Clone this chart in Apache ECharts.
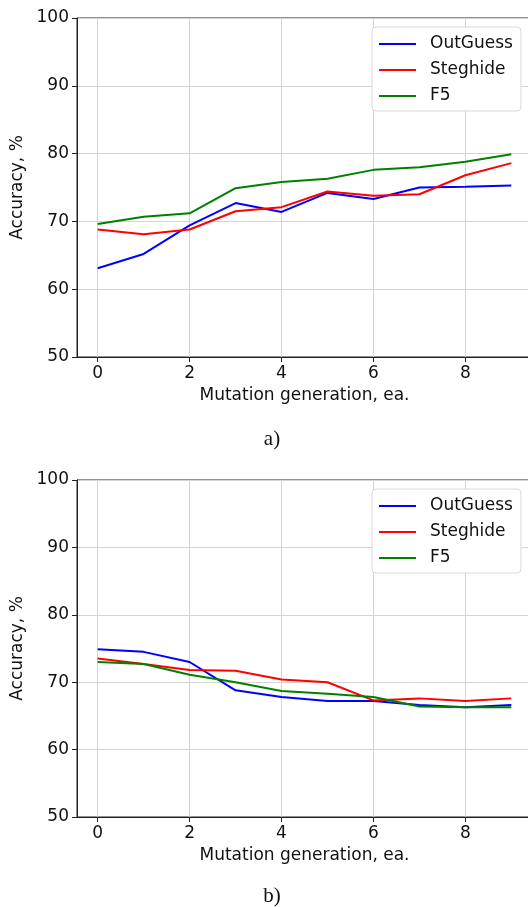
<!DOCTYPE html>
<html>
<head>
  <meta charset="utf-8">
  <title>Mutation accuracy</title>
  <script src="https://cdn.jsdelivr.net/npm/echarts@6/dist/echarts.min.js"></script>
  <style>
    html, body { margin: 0; padding: 0; background: #fff; }
  </style>
</head>
<body>
  <div id="main" style="width:528px;height:907px;"></div>
  <script type="text/javascript">
    // generations along x
    var generations = [0, 1, 2, 3, 4, 5, 6, 7, 8, 9];
    var xTicks = [0, 2, 4, 6, 8];
    var seriesNames = ['OutGuess', 'Steghide', 'F5'];
    var seriesColors = ['#0000ff', '#ff0000', '#008000'];

    // panel a)
    var outguessA = [63.1, 65.2, 69.4, 72.7, 71.4, 74.2, 73.3, 75.0, 75.1, 75.3];
    var steghideA = [68.8, 68.1, 68.8, 71.5, 72.1, 74.4, 73.8, 74.0, 76.8, 78.6];
    var f5A       = [69.6, 70.7, 71.2, 74.9, 75.8, 76.3, 77.6, 78.0, 78.8, 79.9];

    // panel b)
    var outguessB = [74.9, 74.5, 73.0, 68.8, 67.8, 67.2, 67.2, 66.6, 66.3, 66.6];
    var steghideB = [73.5, 72.7, 71.8, 71.7, 70.4, 70.0, 67.3, 67.6, 67.2, 67.6];
    var f5B       = [73.0, 72.7, 71.1, 70.0, 68.7, 68.3, 67.8, 66.4, 66.3, 66.3];

    var font = 'DejaVu Sans';

    function pairs(vals) {
      return generations.map(function (g, i) { return [g, vals[i]]; });
    }

    function xAxisFor(idx) {
      return {
        type: 'value', gridIndex: idx, min: -0.45, max: 9.45,
        name: 'Mutation generation, ea.', nameLocation: 'middle', nameGap: 30,
        nameTextStyle: { fontFamily: font, fontSize: 17, color: '#111' },
        axisLine: { show: true, onZero: false, lineStyle: { color: '#222', width: 1 } },
        axisTick: { show: true, length: 5, customValues: xTicks, lineStyle: { color: '#222' } },
        axisLabel: { customValues: xTicks, margin: 8, fontFamily: font, fontSize: 17, color: '#111' },
        splitLine: { show: true, customValues: xTicks, lineStyle: { color: '#d4d4d4', width: 1 } }
      };
    }

    function yAxisFor(idx) {
      return {
        type: 'value', gridIndex: idx, min: 50, max: 100, interval: 10,
        name: 'Accuracy, %', nameLocation: 'middle', nameGap: 45, nameRotate: 90,
        nameTextStyle: { fontFamily: font, fontSize: 17, color: '#111' },
        axisLine: { show: true, onZero: false, lineStyle: { color: '#222', width: 1 } },
        axisTick: { show: true, length: 5, lineStyle: { color: '#222' } },
        axisLabel: { margin: 8, fontFamily: font, fontSize: 17, color: '#111' },
        splitLine: { show: true, lineStyle: { color: '#d4d4d4', width: 1 } }
      };
    }

    function legendFor(idx, top) {
      return {
        orient: 'vertical', left: 372, top: top,
        data: seriesNames.map(function (n) { return { name: n, icon: 'rect' }; }),
        itemWidth: 37, itemHeight: 2, itemGap: 6,
        padding: [7, 8, 5, 7],
        backgroundColor: '#fff', borderColor: '#d8d8d8', borderWidth: 1, borderRadius: 4,
        textStyle: { fontFamily: font, fontSize: 17, color: '#111', lineHeight: 20, padding: [0, 0, 0, 9] },
        selectedMode: false
      };
    }

    function lineSeries(name, color, vals, idx) {
      return {
        name: name, type: 'line', xAxisIndex: idx, yAxisIndex: idx,
        data: pairs(vals), showSymbol: false, symbol: 'none',
        lineStyle: { color: color, width: 2 }, itemStyle: { color: color },
        animation: false
      };
    }

    var myChart = echarts.init(document.getElementById('main'));

    var option = {
      backgroundColor: '#fff',
      animation: false,
      grid: [
        { left: 77, width: 455, top: 18, height: 339, outerBoundsMode: 'none', containLabel: false, show: true, borderColor: '#222', borderWidth: 1, backgroundColor: 'transparent' },
        { left: 77, width: 455, top: 480, height: 337, outerBoundsMode: 'none', containLabel: false, show: true, borderColor: '#222', borderWidth: 1, backgroundColor: 'transparent' }
      ],
      xAxis: [xAxisFor(0), xAxisFor(1)],
      yAxis: [yAxisFor(0), yAxisFor(1)],
      legend: [legendFor(0, 27), legendFor(1, 489)],
      graphic: [
        { type: 'text', x: 272, y: 439, style: { text: 'a)', fontFamily: 'Liberation Serif', fontSize: 21, fill: '#111', align: 'center', verticalAlign: 'middle' } },
        { type: 'text', x: 272, y: 896, style: { text: 'b)', fontFamily: 'Liberation Serif', fontSize: 21, fill: '#111', align: 'center', verticalAlign: 'middle' } }
      ],
      series: [
        lineSeries(seriesNames[0], seriesColors[0], outguessA, 0),
        lineSeries(seriesNames[1], seriesColors[1], steghideA, 0),
        lineSeries(seriesNames[2], seriesColors[2], f5A, 0),
        lineSeries(seriesNames[0], seriesColors[0], outguessB, 1),
        lineSeries(seriesNames[1], seriesColors[1], steghideB, 1),
        lineSeries(seriesNames[2], seriesColors[2], f5B, 1)
      ]
    };

    myChart.setOption(option);
  </script>
</body>
</html>
